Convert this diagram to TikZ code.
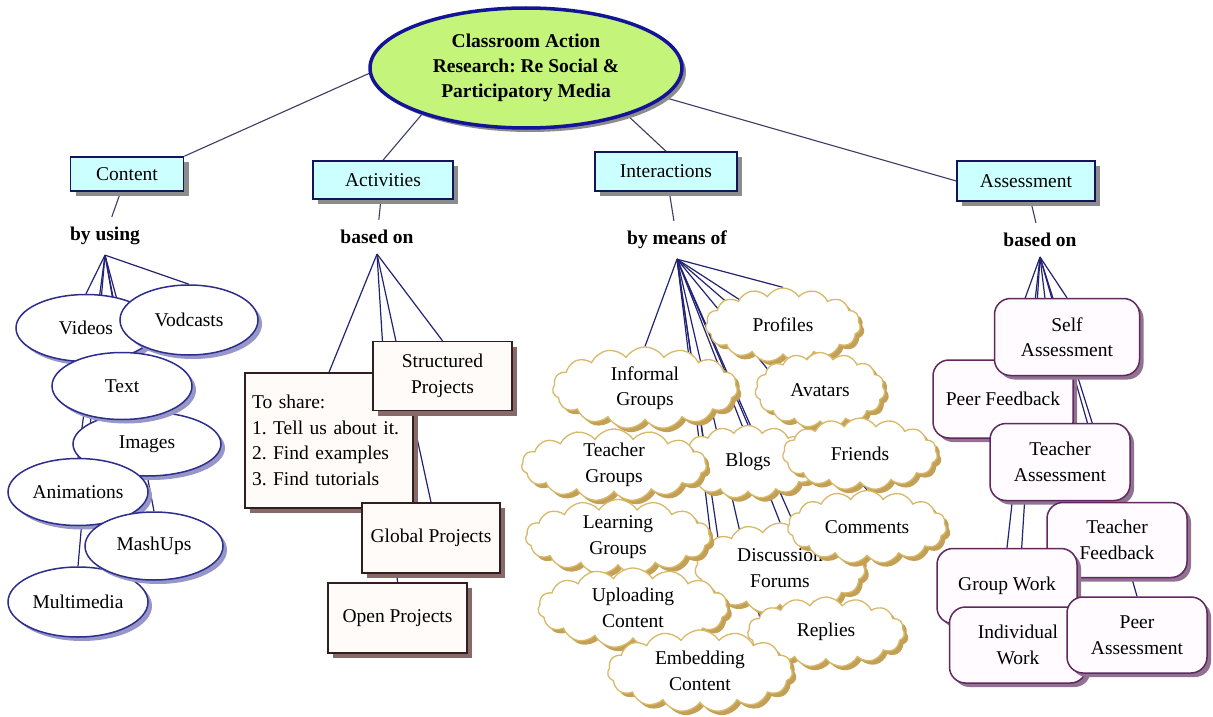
\documentclass[tikz,border=0pt]{standalone}
\usepackage{fontspec}
\setmainfont{Liberation Serif}
\usetikzlibrary{shapes.geometric,shapes.symbols,shadows,backgrounds}
\definecolor{titlefill}{RGB}{196,244,122}
\definecolor{titledraw}{RGB}{20,20,150}
\definecolor{boxfill}{RGB}{204,255,255}
\definecolor{boxdraw}{RGB}{20,20,90}
\definecolor{ellipsedraw}{RGB}{45,45,140}
\definecolor{ellipseshadow}{RGB}{150,150,200}
\definecolor{actdraw}{RGB}{50,30,30}
\definecolor{actfill}{RGB}{255,251,249}
\definecolor{actshadow}{RGB}{135,105,105}
\definecolor{clouddraw}{RGB}{215,185,105}
\definecolor{cloudshadow}{RGB}{195,160,85}
\definecolor{assessdraw}{RGB}{95,40,95}
\definecolor{assessfill}{RGB}{255,251,255}
\definecolor{assessshadow}{RGB}{145,115,145}
\definecolor{linkline}{RGB}{35,35,115}
\definecolor{mainline}{RGB}{60,60,100}
\begin{document}
\frenchspacing
\begin{tikzpicture}[x=1pt,y=-1pt,
  every node/.style={font=\fontsize{19.5}{25.5}\selectfont, inner sep=0pt, align=center},
  titlenode/.style={ellipse, draw=titledraw, line width=3.5pt, fill=titlefill,
    minimum width=312pt, minimum height=120pt, font=\bfseries\fontsize{19.5}{25}\selectfont,
    drop shadow={shadow xshift=4pt,shadow yshift=-4pt,fill=black!45,opacity=1}},
  mainbox/.style={rectangle, draw=boxdraw, line width=1.5pt, fill=boxfill,
    drop shadow={shadow xshift=5pt,shadow yshift=-5pt,fill=black!45,opacity=1}},
  linkphrase/.style={font=\bfseries\fontsize{19.5}{25}\selectfont, inner xsep=4pt, inner ysep=10pt},
  mediaellipse/.style={ellipse, draw=ellipsedraw, line width=1.5pt, fill=white,
    minimum width=140pt, minimum height=67pt,
    drop shadow={shadow xshift=4pt,shadow yshift=-4pt,fill=ellipseshadow,opacity=1}},
  actbox/.style={rectangle, draw=actdraw, line width=1.5pt, fill=actfill,
    minimum width=139pt, minimum height=69pt,
    drop shadow={shadow xshift=5pt,shadow yshift=-5pt,fill=actshadow,opacity=1}},
  cloudnode/.style={cloud, cloud puffs=15, cloud puff arc=115, cloud ignores aspect,
    draw=clouddraw, line width=1.3pt, fill=white,
    drop shadow={shadow xshift=4pt,shadow yshift=-4pt,fill=cloudshadow,opacity=1}},
  assessbox/.style={rectangle, rounded corners=16pt, draw=assessdraw, line width=1.5pt, fill=assessfill,
    minimum width=140pt, minimum height=76pt,
    drop shadow={shadow xshift=4pt,shadow yshift=-4pt,fill=assessshadow,opacity=1}},
  linkedge/.style={draw=linkline, line width=1.2pt},
  mainedge/.style={draw=mainline, line width=1.1pt}
]
\useasboundingbox (0,0) rectangle (1213,717);

% title and main concepts
\node[titlenode] (title) at (526,68) {Classroom Action\\Research: Re Social \&\\Participatory Media};
\node[mainbox, minimum width=113pt, minimum height=34pt] (content) at (127,174) {Content};
\node[mainbox, minimum width=140pt, minimum height=38pt] (activities) at (383,180) {Activities};
\node[mainbox, minimum width=142pt, minimum height=39pt] (interactions) at (666,171.5) {Interactions};
\node[mainbox, minimum width=138pt, minimum height=40pt] (assessment) at (1026,181) {Assessment};

% linking phrases
\node[linkphrase] (byusing) at (105,236) {by using};
\node[linkphrase] (basedonA) at (377,237) {based on};
\node[linkphrase] (bymeans) at (677,240) {by means of};
\node[linkphrase] (basedonB) at (1040,240) {based on};

% content media
\node[mediaellipse] (videos) at (86,328) {Videos};
\node[mediaellipse, minimum width=138pt, minimum height=70pt] (vodcasts) at (189,320) {Vodcasts};
\node[mediaellipse, minimum width=148pt, minimum height=64pt] (images) at (147,444) {Images};
\node[mediaellipse] (text) at (122,386) {Text};
\node[mediaellipse] (animations) at (78,492) {Animations};
\node[mediaellipse, minimum height=70pt] (multimedia) at (78,602) {Multimedia};
\node[mediaellipse, minimum width=138pt, minimum height=68pt] (mashups) at (154,546) {MashUps};

% activities
\node[actbox, minimum height=135pt, text width=154pt, inner xsep=7pt, align=left] (toshare) at (329,440.5)
  {To share:\\1. Tell us about it.\\2. Find examples\\3. Find tutorials};
\node[actbox] (structured) at (442.5,376) {Structured\\Projects};
\node[actbox, minimum width=138pt, minimum height=70pt] (global) at (431,538) {Global Projects};
\node[actbox, minimum height=70pt] (open) at (397.5,618) {Open Projects};

% interactions
\node[cloudnode, minimum width=155pt, minimum height=74pt] (profiles) at (783,325) {Profiles};
\node[cloudnode, minimum width=170pt, minimum height=90pt] (discussion) at (780,568) {Discussion\\Forums};
\node[cloudnode, minimum width=140pt, minimum height=73pt] (blogs) at (748,462) {Blogs};
\node[cloudnode, minimum width=130pt, minimum height=75pt] (avatars) at (820,390) {Avatars};
\node[cloudnode, minimum width=185pt, minimum height=82pt] (informal) at (645,388) {Informal\\Groups};
\node[cloudnode, minimum width=185pt, minimum height=72pt] (teacher) at (614,465) {Teacher\\Groups};
\node[cloudnode, minimum width=155pt, minimum height=72pt] (friends) at (860,454) {Friends};
\node[cloudnode, minimum width=159pt, minimum height=73pt] (comments) at (867,527) {Comments};
\node[cloudnode, minimum width=185pt, minimum height=75pt] (learning) at (618,537) {Learning\\Groups};
\node[cloudnode, minimum width=157pt, minimum height=70pt] (replies) at (826,632) {Replies};
\node[cloudnode, minimum width=190pt, minimum height=80pt] (uploading) at (633,608) {Uploading\\Content};
\node[cloudnode, minimum width=185pt, minimum height=82pt] (embedding) at (700,671) {Embedding\\Content};

% assessment
\node[assessbox, minimum height=78pt] (peerfb) at (1003,399) {Peer Feedback};
\node[assessbox, minimum width=145pt, minimum height=77pt] (self) at (1067,337) {Self\\Assessment};
\node[assessbox, minimum height=77pt] (teacherass) at (1060,462) {Teacher\\Assessment};
\node[assessbox, minimum height=75pt] (teacherfb) at (1117,540) {Teacher\\Feedback};
\node[assessbox, minimum height=75pt] (groupwork) at (1007,586) {Group Work};
\node[assessbox, minimum width=137pt] (individual) at (1018,645) {Individual\\Work};
\node[assessbox] (peerass) at (1137,635) {Peer\\Assessment};

\begin{scope}[on background layer]
  \fill[white] (0,0) rectangle (1213,717);
  \draw[mainedge] (title.182) -- (content.north east);
  \draw[mainedge] (title.204) -- (activities.north);
  \draw[mainedge] (title.335) -- (interactions.north);
  \draw[mainedge] (title.348) -- (assessment.west);
  \draw[mainedge] (content) -- (byusing);
  \draw[mainedge] (activities) -- (basedonA);
  \draw[mainedge] (interactions) -- (bymeans);
  \draw[mainedge] (assessment) -- (basedonB);
  \foreach \n in {videos,vodcasts,text,images,animations,mashups,multimedia}
    \draw[linkedge] (byusing.south) -- (\n.north);
  \foreach \n in {toshare,structured,global,open}
    \draw[linkedge] (basedonA.south) -- (\n.north);
  \foreach \n in {profiles,informal,avatars,blogs,friends,discussion,comments,replies}
    \draw[linkedge] (bymeans.south) -- (\n.north);
  \foreach \n in {teacher,learning,uploading}
    \draw[linkedge] (bymeans.south) -- (\n.east);
  \draw[linkedge] (bymeans.south) -- (embedding.north east);
  \foreach \n in {self,peerfb,teacherass,teacherfb,groupwork,individual,peerass}
    \draw[linkedge] (basedonB.south) -- (\n.north);
\end{scope}
\end{tikzpicture}
\end{document}
